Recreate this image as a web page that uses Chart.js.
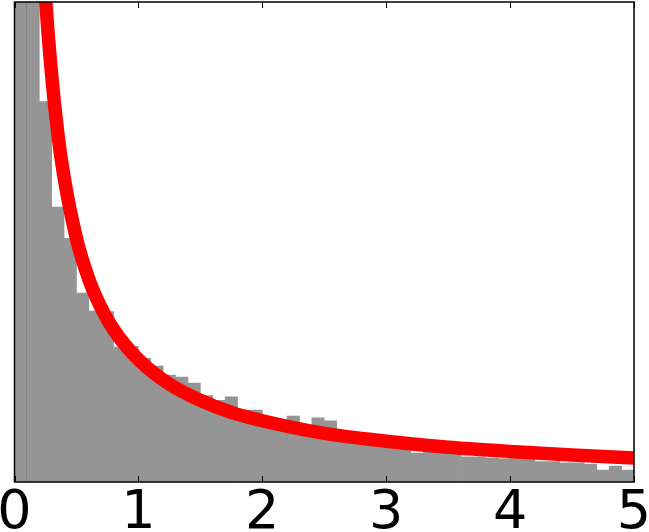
<!DOCTYPE html>
<html>
<head>
<meta charset="utf-8">
<script src="https://cdn.jsdelivr.net/npm/chart.js@4/dist/chart.umd.min.js"></script>
<style>
  html, body { margin: 0; padding: 0; background: #fff; }
  canvas { display: block; }
</style>
</head>
<body>
<canvas id="grafico" width="649" height="532"></canvas>
<script>
// centros de los bins del histograma (ancho 0.1)
const binCenters = [
  0.05, 0.15, 0.25, 0.35, 0.45, 0.55, 0.65, 0.75, 0.85, 0.95,
  1.05, 1.15, 1.25, 1.35, 1.45, 1.55, 1.65, 1.75, 1.85, 1.95,
  2.05, 2.15, 2.25, 2.35, 2.45, 2.55, 2.65, 2.75, 2.85, 2.95,
  3.05, 3.15, 3.25, 3.35, 3.45, 3.55, 3.65, 3.75, 3.85, 3.95,
  4.05, 4.15, 4.25, 4.35, 4.45, 4.55, 4.65, 4.75, 4.85, 4.95
];
// alturas del histograma (densidad)
const binHeights = [
  5.2, 4.4, 3.17, 2.29, 2.03, 1.575, 1.425, 1.42, 1.125, 1.13,
  1.03, 0.967, 0.89, 0.875, 0.825, 0.72, 0.68, 0.71, 0.60, 0.60,
  0.53, 0.52, 0.55, 0.475, 0.535, 0.51, 0.39, 0.37, 0.385, 0.35,
  0.34, 0.33, 0.24, 0.29, 0.28, 0.27, 0.21, 0.21, 0.20, 0.195,
  0.20, 0.19, 0.17, 0.17, 0.16, 0.16, 0.148, 0.10, 0.133, 0.10
];
// curva roja
const curveX = [0.2, 0.25, 0.3, 0.35, 0.4, 0.5, 0.6, 0.7, 0.8, 1.0, 1.25, 1.5, 1.75, 2.0, 2.5, 3.0, 3.5, 4.0, 4.5, 5.0];
const curveY = [5.08, 4.05, 3.39, 2.9, 2.54, 2.03, 1.69, 1.45, 1.27, 1.02, 0.815, 0.68, 0.58, 0.51, 0.405, 0.34, 0.29, 0.255, 0.225, 0.2];
const xTicks = [0, 1, 2, 3, 4, 5];

const marco = {
    id: 'marco',
    afterDatasetsDraw(chart) {
        const { ctx, chartArea: a, scales: { x } } = chart;
        ctx.save();
        ctx.strokeStyle = '#000';
        ctx.lineWidth = 1;
        x.ticks.forEach(t => {
            const px = Math.round(x.getPixelForValue(t.value)) + 0.5;
            ctx.beginPath();
            ctx.moveTo(px, a.bottom); ctx.lineTo(px, a.bottom - 6);
            ctx.moveTo(px, a.top); ctx.lineTo(px, a.top + 6);
            ctx.stroke();
        });
        ctx.lineWidth = 1.5;
        ctx.strokeRect(a.left, a.top, a.right - a.left, a.bottom - a.top);
        ctx.restore();
    }
};

const ctx = document.getElementById('grafico').getContext('2d');
new Chart(ctx, {
    data: {
        datasets: [{
            type: 'line',
            data: curveX.map((v, i) => ({ x: v, y: curveY[i] })),
            borderColor: '#ff0000',
            borderWidth: 13.5,
            pointRadius: 0,
            cubicInterpolationMode: 'monotone',
            clip: 0,
            order: 0
        }, {
            type: 'bar',
            data: binCenters.map((v, i) => ({ x: v, y: binHeights[i] })),
            backgroundColor: '#959595',
            borderColor: '#6e6e6e',
            borderWidth: c => c.dataIndex === 0 ? { left: 0, top: 0, bottom: 0, right: 1 } : 0,
            borderSkipped: false,
            barPercentage: 1,
            categoryPercentage: 1,
            clip: 0,
            order: 1
        }]
    },
    options: {
        responsive: false,
        animation: false,
        layout: { padding: { left: 14.5, right: 15, top: 2, bottom: 0 } },
        scales: {
            x: {
                type: 'linear',
                offset: false,
                min: 0,
                max: 5,
                afterBuildTicks: s => { s.ticks = xTicks.map(v => ({ value: v })); },
                afterFit: s => { s.height = 50; s.paddingLeft = 0; s.paddingRight = 0; },
                grid: { display: false, offset: false },
                border: { display: false },
                ticks: {
                    color: '#000',
                    font: { family: 'DejaVu Sans', size: 54 },
                    padding: -8,
                    maxRotation: 0,
                    autoSkip: false
                }
            },
            y: {
                display: false,
                min: 0,
                max: 4
            }
        },
        plugins: {
            legend: { display: false },
            tooltip: { enabled: false }
        }
    },
    plugins: [marco]
});
</script>
</body>
</html>
